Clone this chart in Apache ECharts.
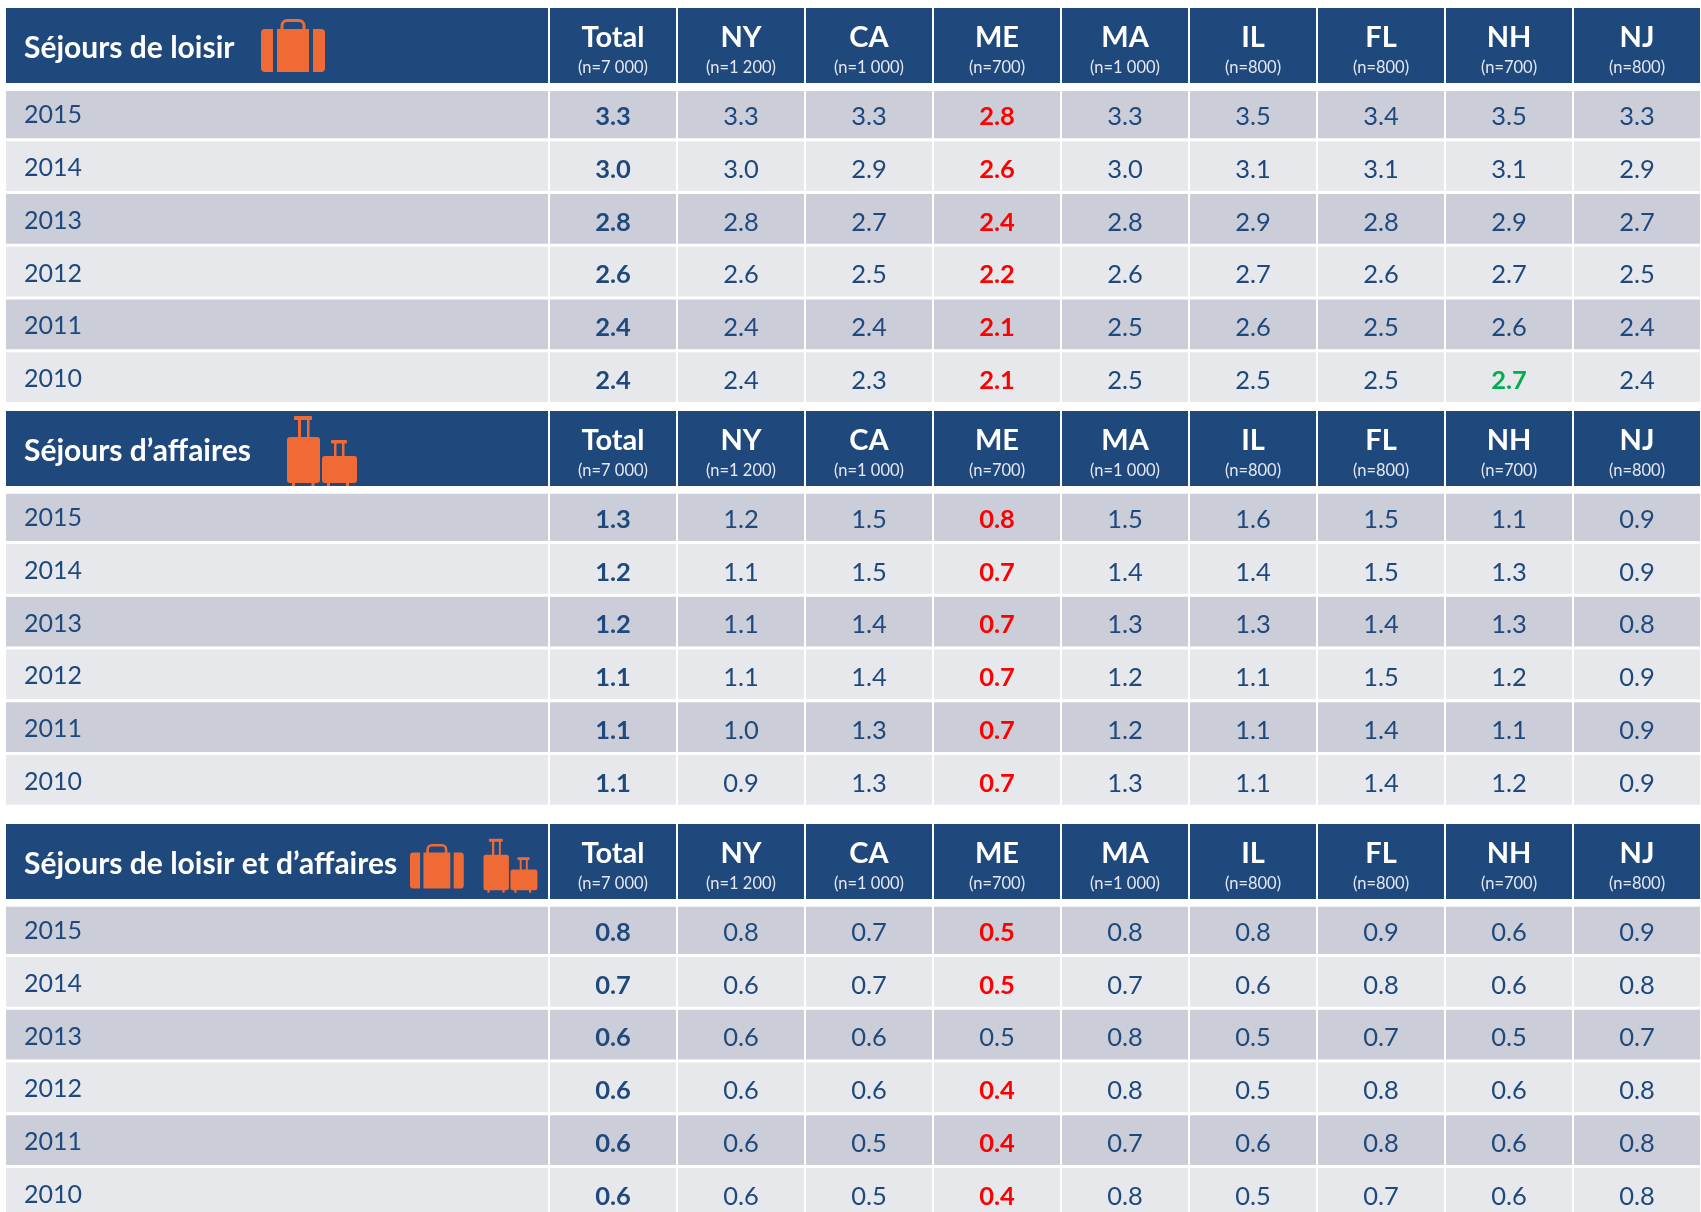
<!DOCTYPE html>
<html lang="fr">
<head>
<meta charset="utf-8">
<title>Séjours</title>
<script src="https://cdn.jsdelivr.net/npm/echarts@6/dist/echarts.min.js"></script>
<style>
  html, body { margin: 0; padding: 0; background: #ffffff; }
  #chart { width: 1701px; height: 1212px; }
</style>
</head>
<body>
<div id="chart"></div>
<script>
// données
const years = ['2015', '2014', '2013', '2012', '2011', '2010'];
const columns = ['Total', 'NY', 'CA', 'ME', 'MA', 'IL', 'FL', 'NH', 'NJ'];
const sampleSizes = ['(n=7 000)', '(n=1 200)', '(n=1 000)', '(n=700)', '(n=1 000)', '(n=800)', '(n=800)', '(n=700)', '(n=800)'];

const leisureValues = [
  [3.3, 3.3, 3.3, 2.8, 3.3, 3.5, 3.4, 3.5, 3.3],
  [3.0, 3.0, 2.9, 2.6, 3.0, 3.1, 3.1, 3.1, 2.9],
  [2.8, 2.8, 2.7, 2.4, 2.8, 2.9, 2.8, 2.9, 2.7],
  [2.6, 2.6, 2.5, 2.2, 2.6, 2.7, 2.6, 2.7, 2.5],
  [2.4, 2.4, 2.4, 2.1, 2.5, 2.6, 2.5, 2.6, 2.4],
  [2.4, 2.4, 2.3, 2.1, 2.5, 2.5, 2.5, 2.7, 2.4],
];
const businessValues = [
  [1.3, 1.2, 1.5, 0.8, 1.5, 1.6, 1.5, 1.1, 0.9],
  [1.2, 1.1, 1.5, 0.7, 1.4, 1.4, 1.5, 1.3, 0.9],
  [1.2, 1.1, 1.4, 0.7, 1.3, 1.3, 1.4, 1.3, 0.8],
  [1.1, 1.1, 1.4, 0.7, 1.2, 1.1, 1.5, 1.2, 0.9],
  [1.1, 1.0, 1.3, 0.7, 1.2, 1.1, 1.4, 1.1, 0.9],
  [1.1, 0.9, 1.3, 0.7, 1.3, 1.1, 1.4, 1.2, 0.9],
];
const mixedValues = [
  [0.8, 0.8, 0.7, 0.5, 0.8, 0.8, 0.9, 0.6, 0.9],
  [0.7, 0.6, 0.7, 0.5, 0.7, 0.6, 0.8, 0.6, 0.8],
  [0.6, 0.6, 0.6, 0.5, 0.8, 0.5, 0.7, 0.5, 0.7],
  [0.6, 0.6, 0.6, 0.4, 0.8, 0.5, 0.8, 0.6, 0.8],
  [0.6, 0.6, 0.5, 0.4, 0.7, 0.6, 0.8, 0.6, 0.8],
  [0.6, 0.6, 0.5, 0.4, 0.8, 0.5, 0.7, 0.6, 0.8],
];

// cellules en couleur : 0 = normal, 1 = rouge, 2 = vert
const leisureMarks = [
  [0, 0, 0, 1, 0, 0, 0, 0, 0],
  [0, 0, 0, 1, 0, 0, 0, 0, 0],
  [0, 0, 0, 1, 0, 0, 0, 0, 0],
  [0, 0, 0, 1, 0, 0, 0, 0, 0],
  [0, 0, 0, 1, 0, 0, 0, 0, 0],
  [0, 0, 0, 1, 0, 0, 0, 2, 0],
];
const businessMarks = leisureMarks.map(() => [0, 0, 0, 1, 0, 0, 0, 0, 0]);
const mixedMarks = [
  [0, 0, 0, 1, 0, 0, 0, 0, 0],
  [0, 0, 0, 1, 0, 0, 0, 0, 0],
  [0, 0, 0, 0, 0, 0, 0, 0, 0],
  [0, 0, 0, 1, 0, 0, 0, 0, 0],
  [0, 0, 0, 1, 0, 0, 0, 0, 0],
  [0, 0, 0, 1, 0, 0, 0, 0, 0],
];

const NAVY = '#1f497d';
const ROW_DARK = '#cbced8';
const ROW_LIGHT = '#e7e8ec';
const ORANGE = '#f06a35';
const RED = '#ff0000';
const GREEN = '#00b050';
const FONT = 'Lato';

// mise en page des trois tableaux
const tables = [
  { title: 'Séjours de loisir', values: leisureValues, marks: leisureMarks, headerTop: 8, bodyTop: 87 },
  { title: 'Séjours d’affaires', values: businessValues, marks: businessMarks, headerTop: 411, bodyTop: 489.75 },
  { title: 'Séjours de loisir et d’affaires', values: mixedValues, marks: mixedMarks, headerTop: 824, bodyTop: 902.75 },
];
const HEADER_H = 75;
const BODY_H = 316.5;
const LEFT_COL = { left: 5, width: 544 };
const DATA_COL = { left: 549, width: 1152 };

const grids = [];
const xAxes = [];
const yAxes = [];
const series = [];

function addGrid(box, top, height, xData, yData, renderItem, data) {
  const idx = grids.length;
  // le dernier tableau dépasse du bas de l'image
  grids.push({ left: box.left, top: top, width: box.width, height: height, outerBoundsMode: 'none' });
  xAxes.push({ type: 'category', gridIndex: idx, data: xData, show: false });
  yAxes.push({ type: 'category', gridIndex: idx, data: yData, inverse: true, show: false });
  series.push({
    type: 'custom',
    xAxisIndex: idx,
    yAxisIndex: idx,
    clip: false,
    silent: true,
    renderItem: renderItem,
    data: data,
  });
}

// rectangle de la cellule (la 1re ligne est un peu plus courte en haut)
function cellRect(api, insetY) {
  const c = api.coord([api.value(0), api.value(1)]);
  const s = api.size([1, 1]);
  const top = c[1] - s[1] / 2 + insetY;
  const trim = insetY && api.value(1) === 0 ? 2.5 : 0;
  return { x: c[0] - s[0] / 2 + 1, y: top + trim, width: s[0] - 2, height: s[1] - insetY * 2 - trim, cx: c[0], cy: c[1] };
}

function renderHeaderCell(params, api) {
  const r = cellRect(api, 0);
  const i = api.value(0);
  return {
    type: 'group',
    children: [
      { type: 'rect', shape: { x: r.x, y: r.y, width: r.width, height: r.height }, style: { fill: NAVY } },
      { type: 'text', style: { x: r.cx, y: r.cy - 7.5, text: columns[i], fill: '#fff', font: 'bold 29px ' + FONT, textAlign: 'center', textVerticalAlign: 'middle' } },
      { type: 'text', style: { x: r.cx, y: r.cy + 22, text: sampleSizes[i], fill: '#e4e8f0', font: '16.5px ' + FONT, textAlign: 'center', textVerticalAlign: 'middle' } },
    ],
  };
}

function renderTitleCell(params, api) {
  const r = cellRect(api, 0);
  return {
    type: 'group',
    children: [
      { type: 'rect', shape: { x: r.x, y: r.y, width: r.width, height: r.height }, style: { fill: NAVY } },
      { type: 'text', style: { x: 24, y: r.cy + 2.5, text: tables[api.value(2)].title, fill: '#fff', font: 'bold 30px ' + FONT, textAlign: 'left', textVerticalAlign: 'middle' } },
    ],
  };
}

function renderYearCell(params, api) {
  const r = cellRect(api, 1.5);
  const row = api.value(1);
  return {
    type: 'group',
    children: [
      { type: 'rect', shape: { x: r.x, y: r.y, width: r.width, height: r.height }, style: { fill: row % 2 ? ROW_LIGHT : ROW_DARK } },
      { type: 'text', style: { x: 24, y: r.cy + 2, text: years[row], fill: NAVY, font: '25px ' + FONT, textAlign: 'left', textVerticalAlign: 'middle' } },
    ],
  };
}

function renderValueCell(params, api) {
  const r = cellRect(api, 1.5);
  const col = api.value(0);
  const row = api.value(1);
  const mark = api.value(3);
  const bold = col === 0 || mark > 0;
  const color = mark === 1 ? RED : mark === 2 ? GREEN : NAVY;
  return {
    type: 'group',
    children: [
      { type: 'rect', shape: { x: r.x, y: r.y, width: r.width, height: r.height }, style: { fill: row % 2 ? ROW_LIGHT : ROW_DARK } },
      { type: 'text', style: { x: r.cx, y: r.cy + 3.5, text: api.value(2).toFixed(1), fill: color, font: (bold ? 'bold ' : '') + '25.5px ' + FONT, textAlign: 'center', textVerticalAlign: 'middle' } },
    ],
  };
}

tables.forEach((t, ti) => {
  addGrid(LEFT_COL, t.headerTop, HEADER_H, ['titre'], ['entête'], renderTitleCell, [[0, 0, ti]]);
  addGrid(DATA_COL, t.headerTop, HEADER_H, columns, ['entête'], renderHeaderCell, columns.map((c, i) => [i, 0]));
  addGrid(LEFT_COL, t.bodyTop, BODY_H, ['année'], years, renderYearCell, years.map((y, j) => [0, j]));
  const cells = [];
  t.values.forEach((row, j) => row.forEach((v, i) => cells.push([i, j, v, t.marks[j][i]])));
  addGrid(DATA_COL, t.bodyTop, BODY_H, columns, years, renderValueCell, cells);
});

// pictogrammes : valise et chariots
function box(x, y, w, h, r) {
  return { type: 'rect', z: 20, shape: { x: x, y: y, width: w, height: h, r: r || 0 }, style: { fill: ORANGE } };
}
function suitcase(x, y, scale) {
  return {
    type: 'group', x: x, y: y, scaleX: scale, scaleY: scale,
    children: [
      { type: 'rect', z: 20, shape: { x: 21, y: 1.5, width: 22, height: 12, r: [5, 5, 0, 0] }, style: { fill: 'none', stroke: ORANGE, lineWidth: 3 } },
      box(0, 10, 12, 43, [4, 0, 0, 4]),
      box(16, 10, 32, 43),
      box(52, 10, 12, 43, [0, 4, 4, 0]),
    ],
  };
}
function trolleys(x, y, scale) {
  return {
    type: 'group', x: x, y: y, scaleX: scale, scaleY: scale,
    children: [
      box(7, 0, 18, 4, 1), box(11, 2, 3, 20), box(20, 2, 2.5, 20),
      box(0, 21, 33, 46, 3), box(5, 66, 3, 4), box(24.5, 66, 3, 4),
      box(44, 24, 16, 3.5, 1), box(47, 26, 2.5, 15), box(55, 26, 2.5, 15),
      box(35, 40, 35, 27, 3), box(40, 66, 3, 4), box(59, 66, 3, 4),
    ],
  };
}

const chart = echarts.init(document.getElementById('chart'), null, { renderer: 'canvas' });
chart.setOption({
  animation: false,
  backgroundColor: '#ffffff',
  textStyle: { fontFamily: FONT },
  grid: grids,
  xAxis: xAxes,
  yAxis: yAxes,
  series: series,
  graphic: {
    elements: [
      suitcase(261, 19, 1),
      trolleys(287, 416, 1),
      suitcase(410, 844, 0.84),
      trolleys(483.5, 838.7, 0.77),
    ],
  },
});
</script>
</body>
</html>
